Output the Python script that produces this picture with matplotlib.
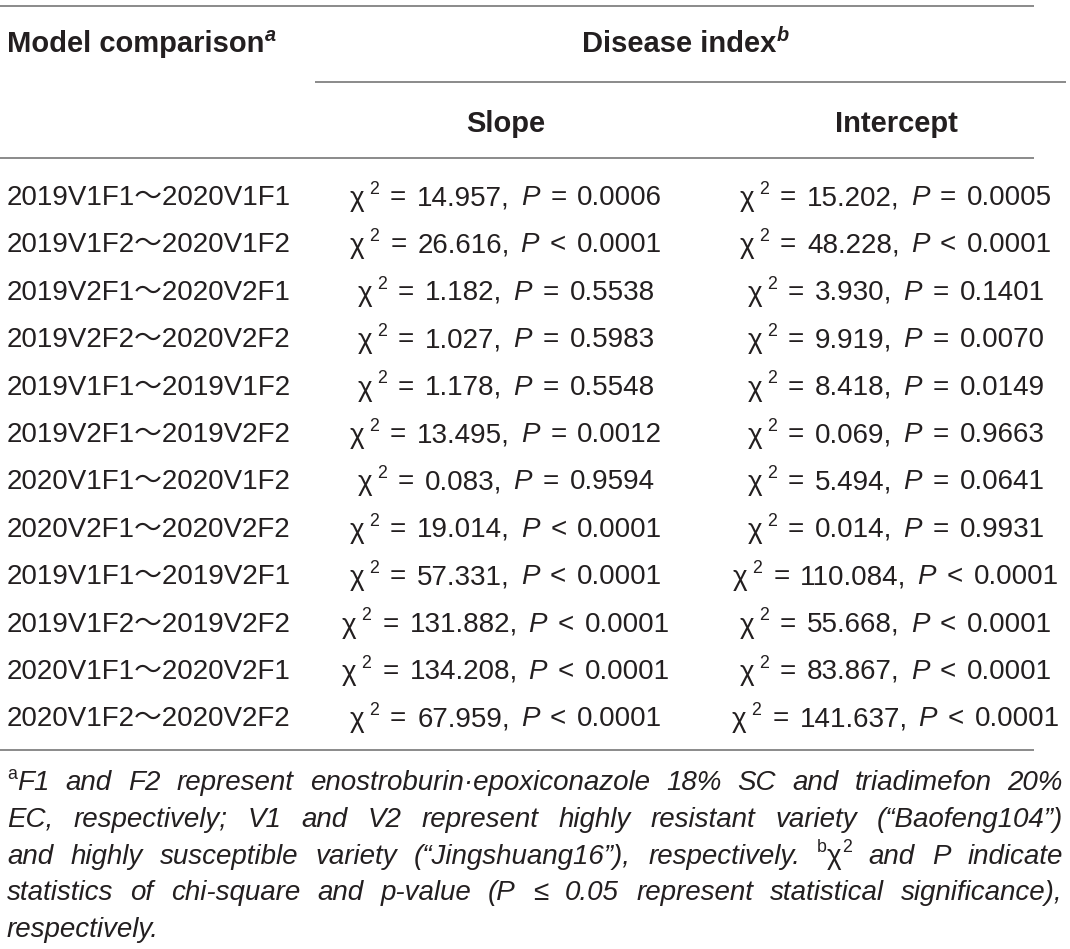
import matplotlib
matplotlib.use('Agg')
import matplotlib.pyplot as plt

# ---------------- data ----------------
comparisons = ["2019V1F1～2020V1F1", "2019V1F2～2020V1F2", "2019V2F1～2020V2F1",
               "2019V2F2～2020V2F2", "2019V1F1～2019V1F2", "2019V2F1～2019V2F2",
               "2020V1F1～2020V1F2", "2020V2F1～2020V2F2", "2019V1F1～2019V2F1",
               "2019V1F2～2019V2F2", "2020V1F1～2020V2F1", "2020V1F2～2020V2F2"]
slope_chi = ["14.957", "26.616", "1.182", "1.027", "1.178", "13.495",
             "0.083", "19.014", "57.331", "131.882", "134.208", "67.959"]
slope_p = ["= 0.0006", "< 0.0001", "= 0.5538", "= 0.5983", "= 0.5548", "= 0.0012",
           "= 0.9594", "< 0.0001", "< 0.0001", "< 0.0001", "< 0.0001", "< 0.0001"]
intercept_chi = ["15.202", "48.228", "3.930", "9.919", "8.418", "0.069",
                 "5.494", "0.014", "110.084", "55.668", "83.867", "141.637"]
intercept_p = ["= 0.0005", "< 0.0001", "= 0.1401", "= 0.0070", "= 0.0149", "= 0.9663",
               "= 0.0641", "= 0.9931", "< 0.0001", "< 0.0001", "< 0.0001", "< 0.0001"]
header_first = "Model comparison"
header_group = "Disease index"
header_cols = ["Slope", "Intercept"]
footnote_lines = [
    [[("a", "sup"), ("F1", "it")], "and F2 represent enostroburin·epoxiconazole 18% SC and triadimefon 20%"],
    [[], "EC, respectively; V1 and V2 represent highly resistant variety (“Baofeng104”)"],
    [[], "and highly susceptible variety (“Jingshuang16”), respectively.", [("b", "sup"), ("χ", "up"), ("2", "sup")], "and P indicate"],
    [[], "statistics of chi-square and p-value (P ≤ 0.05 represent statistical significance),"],
    [[], "respectively."],
]

# ---------------- setup ----------------
W, H = 1070, 949
fig = plt.figure(figsize=(W / 100, H / 100), dpi=100)
ax = fig.add_axes([0, 0, 1, 1])
ax.set_xlim(0, W)
ax.set_ylim(H, 0)
ax.axis('off')
renderer = fig.canvas.get_renderer()

FAM = ['Liberation Sans', 'Noto Sans CJK SC', 'DejaVu Sans']
TC = '#231f20'
LC = '#8a8a8a'
BODY = 20
FOOT = 20


def props(style, size):
    px = size * 100 / 72
    if style == 'up':
        return dict(fontsize=size, fontstyle='normal', fontweight='normal'), 0
    if style == 'it':
        return dict(fontsize=size, fontstyle='italic', fontweight='normal'), 0
    if style == 'bold':
        return dict(fontsize=size, fontstyle='normal', fontweight='bold'), 0
    if style == 'sup':
        return dict(fontsize=size * 0.64, fontstyle='normal', fontweight='normal'), px * 0.40
    if style == 'supit':
        return dict(fontsize=size * 0.68, fontstyle='italic', fontweight='bold'), px * 0.38
    raise ValueError(style)


_cache = {}


def width(text, style, size):
    key = (text, style, size)
    if key in _cache:
        return _cache[key]
    p, _ = props(style, size)
    t = ax.text(0, 0, text, family=FAM, **p)
    w = t.get_window_extent(renderer).width
    t.remove()
    _cache[key] = w
    return w


def space_w(style, size):
    return width("n n", style, size) - width("nn", style, size)


def word_width(segs, size):
    return sum(width(s, st, size) for s, st in segs)


def draw_word(x, base, segs, size):
    for s, st in segs:
        p, r = props(st, size)
        ax.text(x, base - r, s, family=FAM, color=TC, ha='left', va='baseline', **p)
        x += width(s, st, size)
    return x


def draw_words(x, base, words, size, gap):
    for w in words:
        x = draw_word(x, base, w, size)
        x += gap


# ---------------- rules ----------------
for xs, y in [((0, 1034), 6), ((315, 1066), 82), ((0, 1034), 158), ((0, 1034), 750)]:
    ax.plot(xs, [y, y], color=LC, lw=1.4, solid_capstyle='butt')

# ---------------- header ----------------
HB = 21
x = draw_word(7, 52, [(header_first, 'bold')], HB)
draw_word(x + 1, 52, [("a", 'supit')], HB)
gw = word_width([(header_group, 'bold'), ("b", 'supit')], HB)
x = 685 - gw / 2
x = draw_word(x, 52, [(header_group, 'bold')], HB)
draw_word(x + 1, 52, [("b", 'supit')], HB)
for cx, lab in zip([506, 896], header_cols):
    w = width(lab, 'bold', HB)
    draw_word(cx - w / 2, 132, [(lab, 'bold')], HB)

# ---------------- body ----------------
def cell_words(chi, p):
    op, val = p.split(" ")
    return [[("=", 'up')], [(chi + ",", 'up')],
            [("P", 'it')], [(op, 'up')], [(val, 'up')]]


sp = space_w('up', BODY) * 1.4
CHI_GAP = 5
for i, comp in enumerate(comparisons):
    base = 205 + 47.4 * i
    draw_word(7, base, [(comp, 'up')], BODY)
    for cx, chi, p in [(506, slope_chi[i], slope_p[i]), (896, intercept_chi[i], intercept_p[i])]:
        words = cell_words(chi, p)
        tot = (width("χ", 'up', BODY) + CHI_GAP + width("2", 'sup', BODY) + sp
               + sum(word_width(w, BODY) for w in words) + sp * (len(words) - 1))
        x0 = cx - tot / 2
        x = draw_word(x0, base + 1, [("χ", 'up')], BODY) + CHI_GAP
        x = draw_word(x, base, [("2", 'sup')], BODY) + sp
        draw_words(x, base, words, BODY, sp)

# ---------------- footnote ----------------
def parse_line(parts):
    words = []
    for part in parts:
        if isinstance(part, str):
            for w in part.split(" "):
                if w == "":
                    continue
                words.append([(w, 'it')])
        else:
            if len(part) == 0:
                continue
            words.append(list(part))
    return words


L, R = 7, 1063
for j, parts in enumerate(footnote_lines):
    base = 790 + 36.8 * j
    words = parse_line(parts)
    tot = sum(word_width(w, FOOT) for w in words)
    if j < len(footnote_lines) - 1:
        gap = (R - L - tot) / (len(words) - 1)
    else:
        gap = space_w('it', FOOT)
    draw_words(L, base, words, FOOT, gap)

fig.savefig("out.png", dpi=100, facecolor='white')
